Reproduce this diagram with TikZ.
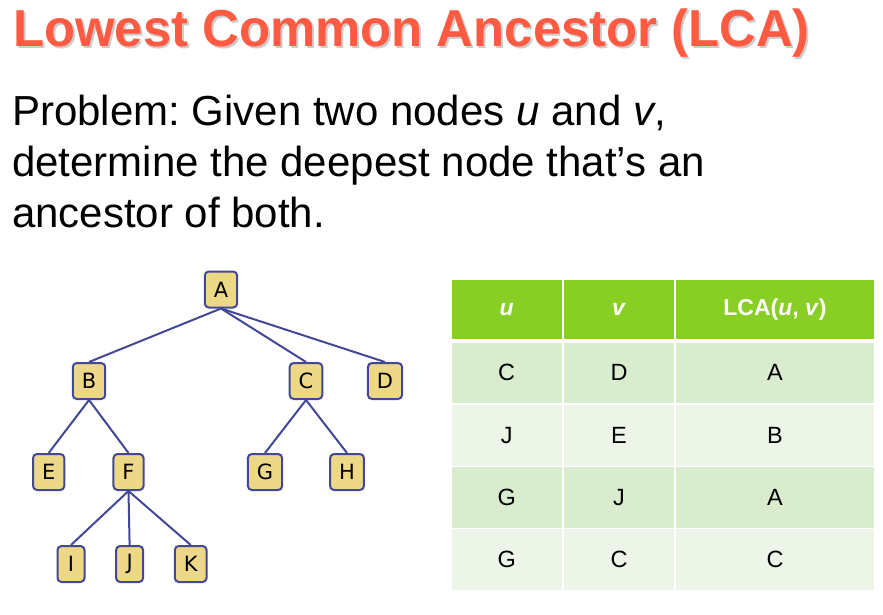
\documentclass[tikz,border=0pt]{standalone}
\usepackage{fontspec}
\setmainfont{Liberation Sans}
\newfontfamily\treefont{DejaVu Sans}
\newcommand{\treesize}{\fontsize{21}{21}\selectfont}
\frenchspacing
\definecolor{titlered}{RGB}{255,90,66}
\definecolor{edgeblue}{RGB}{66,72,150}
\definecolor{nodefill}{RGB}{236,216,134}
\definecolor{headgreen}{RGB}{136,206,37}
\definecolor{bandone}{RGB}{218,236,206}
\definecolor{bandtwo}{RGB}{237,245,232}
\begin{document}
\begin{tikzpicture}[x=1pt,y=-1pt,
  treenode/.style={draw=edgeblue, line width=2pt, fill=nodefill, rounded corners=4pt,
    minimum height=36pt, minimum width=27pt, inner xsep=9pt, inner ysep=0pt},
  treeedge/.style={draw=edgeblue, line width=2pt},
  cell/.style={inner sep=0pt, font=\fontsize{23.5}{23.5}\selectfont},
  headcell/.style={cell, fill=headgreen, text=white, font=\bfseries\fontsize{23}{23}\selectfont},
  rowodd/.style={cell, fill=bandone},
  roweven/.style={cell, fill=bandtwo},
  colA/.style={minimum width=110pt},
  colB/.style={minimum width=110pt},
  colC/.style={minimum width=198pt},
  bodyline/.style={anchor=base west, inner sep=0pt, font=\fontsize{42}{42}\selectfont},
  titlefont/.style={anchor=base west, inner sep=0pt, font=\bfseries\fontsize{52}{52}\selectfont}
]
\useasboundingbox (0,0) rectangle (883,615);

% heading with its soft drop shadow
\node[titlefont, text=black, opacity=0.2] (titleshadow) at (14.8,48.5)
  {\scalebox{0.978}[1]{Lowest Common Ancestor (LCA)}};
\node[titlefont, text=titlered] (title) at (13,46.7)
  {\scalebox{0.978}[1]{Lowest Common Ancestor (LCA)}};

% problem statement
\node[bodyline] (line1) at (12,125) {Problem: Given two nodes \textit{u} and \textit{v},};
\node[bodyline] (line2) at (12,176) {determine the deepest node that’s an};
\node[bodyline] (line3) at (12,227) {ancestor of both.};

% tree node centres
\coordinate (pA) at (221,289.5);
\coordinate (pB) at (89,381);
\coordinate (pC) at (306,381);
\coordinate (pD) at (385,381);
\coordinate (pE) at (48.7,472);
\coordinate (pF) at (128.5,472);
\coordinate (pG) at (265,472);
\coordinate (pH) at (347,472);
\coordinate (pI) at (71,564);
\coordinate (pJ) at (129.6,564);
\coordinate (pK) at (190.7,564);

\foreach \n in {A,B,C,D,E,F,G,H,I,J,K}
  \node[treenode] (\n) at (p\n) {\treefont\treesize \n};

\foreach \p/\c in {A/B, A/C, A/D, B/E, B/F, C/G, C/H, F/I, F/J, F/K}
  \draw[treeedge] (\p.south) -- (\c.north);

% the LCA table
\node[headcell, colA, minimum height=59pt] (h1) at (506.7,309.5) {\textit{u}};
\node[headcell, colB, minimum height=59pt] (h2) at (619,309.5) {\textit{v}};
\node[headcell, colC, minimum height=59pt] (h3) at (775,309.5) {LCA(\textit{u}, \textit{v})};

\node[rowodd, colA, minimum height=59.7pt] (r1a) at (506.7,372.9) {C};
\node[rowodd, colB, minimum height=59.7pt] (r1b) at (619,372.9) {D};
\node[rowodd, colC, minimum height=59.7pt] (r1c) at (775,372.9) {A};

\node[roweven, colA, minimum height=61pt] (r2a) at (506.7,435.5) {J};
\node[roweven, colB, minimum height=61pt] (r2b) at (619,435.5) {E};
\node[roweven, colC, minimum height=61pt] (r2c) at (775,435.5) {B};

\node[rowodd, colA, minimum height=60.4pt] (r3a) at (506.7,497.5) {G};
\node[rowodd, colB, minimum height=60.4pt] (r3b) at (619,497.5) {J};
\node[rowodd, colC, minimum height=60.4pt] (r3c) at (775,497.5) {A};

\node[roweven, colA, minimum height=61pt] (r4a) at (506.7,559.5) {G};
\node[roweven, colB, minimum height=61pt] (r4b) at (619,559.5) {C};
\node[roweven, colC, minimum height=61pt] (r4c) at (775,559.5) {C};
\end{tikzpicture}
\end{document}
